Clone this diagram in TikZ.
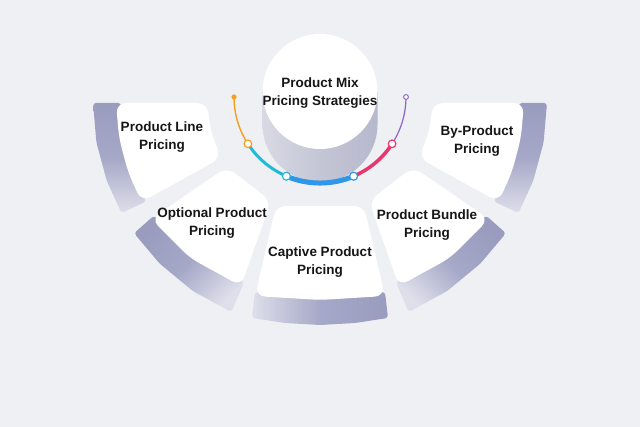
\documentclass[tikz,border=0pt]{standalone}
\usepackage{fontspec}
\setmainfont{Liberation Sans}
\definecolor{bg}{RGB}{238,240,244}
\definecolor{shdark}{RGB}{154,156,191}
\definecolor{shmid}{RGB}{166,168,200}
\definecolor{shlight}{RGB}{222,223,234}
\definecolor{txt}{RGB}{22,22,22}
\definecolor{corange}{RGB}{247,160,30}
\definecolor{cteal}{RGB}{34,186,214}
\definecolor{cblue}{RGB}{47,150,232}
\definecolor{cpink}{RGB}{232,55,110}
\definecolor{cpurple}{RGB}{140,100,204}
\definecolor{cylL}{RGB}{216,217,228}
\definecolor{cylM}{RGB}{196,198,214}
\definecolor{cylR}{RGB}{182,184,204}
\begin{document}
\begin{tikzpicture}[x=1pt,y=-1pt,
  lbl/.style={font=\fontsize{13.5}{18}\selectfont\bfseries, text=txt, align=center, inner sep=0pt},
  tile/.style={fill=white, rounded corners=10pt},
  band/.style={rounded corners=3pt, top color=shdark, bottom color=shlight, middle color=shmid, shading angle=#1},
  seg/.style={line width=#1},
  dotmark/.style={fill=white, line width=1.2pt}
  ]
\useasboundingbox (0,0) rectangle (640,427);
\fill[bg] (0,0) rectangle (640,427);

% shadow bands (outer edge on the big ring)
\path[band=0] (121,103) -- (123.5,138.4) -- (132.5,172.8) -- (146,201.5) -- (121.5,213.1) -- (106.7,180.6) -- (96.4,142.4) -- (93,103) -- cycle;
\path[band=0] (519,103) -- (516.5,138.4) -- (507.5,172.8) -- (494,201.5) -- (518.5,213.1) -- (533.3,180.6) -- (543.6,142.4) -- (547,103) -- cycle;
\path[band=45] (154,215.6) -- (193,254.6) -- (244,282.6) -- (231.3,312) -- (193.1,291.2) -- (159.5,263.5) -- (134.1,233.2) -- cycle;
\path[band=-45] (486,215.6) -- (447,254.6) -- (396,282.6) -- (408.7,312) -- (446.9,291.2) -- (480.5,263.5) -- (505.9,233.2) -- cycle;
\path[band=-90] (385,292) -- (320,296) -- (255,292) -- (252,318) -- (285,323) -- (320,325) -- (355,323) -- (388,318) -- cycle;

% white tiles
\path[tile] (116,103) -- (207,103) -- (210.9,132.2) -- (221.2,157.8) -- (141.6,201.9) -- (128.3,172.8) -- (119.1,138.4) -- cycle;
\path[tile] (524,103) -- (433,103) -- (429.1,132.2) -- (418.8,157.8) -- (498.4,201.9) -- (511.7,172.8) -- (520.9,138.4) -- cycle;
\path[tile] (227,167) -- (271,201) -- (241,286) -- (190,258) -- (151,219) -- cycle;
\path[tile] (413,167) -- (369,201) -- (399,286) -- (450,258) -- (489,219) -- cycle;
\path[tile] (276,206) -- (364,206) -- (385,296) -- (320,300) -- (255,296) -- cycle;

% cylinder
\shade[left color=cylL, right color=cylR, middle color=cylM] (262.5,91.5) -- (262.5,124.5) arc[start angle=180, end angle=0, radius=57.5] -- (377.5,91.5) -- cycle;
\fill[white] (320,91.5) circle (57.5);

% coloured arc
\coordinate (j0) at (234,97);
\coordinate (j1) at (247.9,143.8);
\coordinate (j2) at (286.4,176.2);
\coordinate (j3) at (353.6,176.2);
\coordinate (j4) at (392.1,143.8);
\coordinate (j5) at (406,97);
\draw[corange, seg=1.4pt] (j0) arc[start angle=180, end angle=147, radius=86];
\draw[cteal, seg=3pt] (j1) arc[start angle=147, end angle=113, radius=86];
\draw[cblue, seg=5pt] (j2) arc[start angle=113, end angle=67, radius=86];
\draw[cpink, seg=3.5pt] (j3) arc[start angle=67, end angle=33, radius=86];
\draw[cpurple, seg=1.2pt] (j4) arc[start angle=33, end angle=0, radius=86];
\fill[corange] (j0) circle (2.6);
\draw[cpurple, fill=white, line width=1pt] (j5) circle (2.4);
\draw[corange, dotmark] (j1) circle (3.8);
\draw[cteal, dotmark] (j2) circle (4);
\draw[cblue, dotmark] (j3) circle (4);
\draw[cpink, dotmark] (j4) circle (3.8);

% labels
\node[lbl] (mix) at (320,93) {Product Mix\\Pricing Strategies};
\node[lbl] (pl) at (162,137) {Product Line\\Pricing};
\node[lbl] (op) at (212,223) {Optional Product\\Pricing};
\node[lbl] (cp) at (320,262) {Captive Product\\Pricing};
\node[lbl] (pb) at (427,225) {Product Bundle\\Pricing};
\node[lbl] (bp) at (477,141) {By-Product\\Pricing};
\end{tikzpicture}
\end{document}
